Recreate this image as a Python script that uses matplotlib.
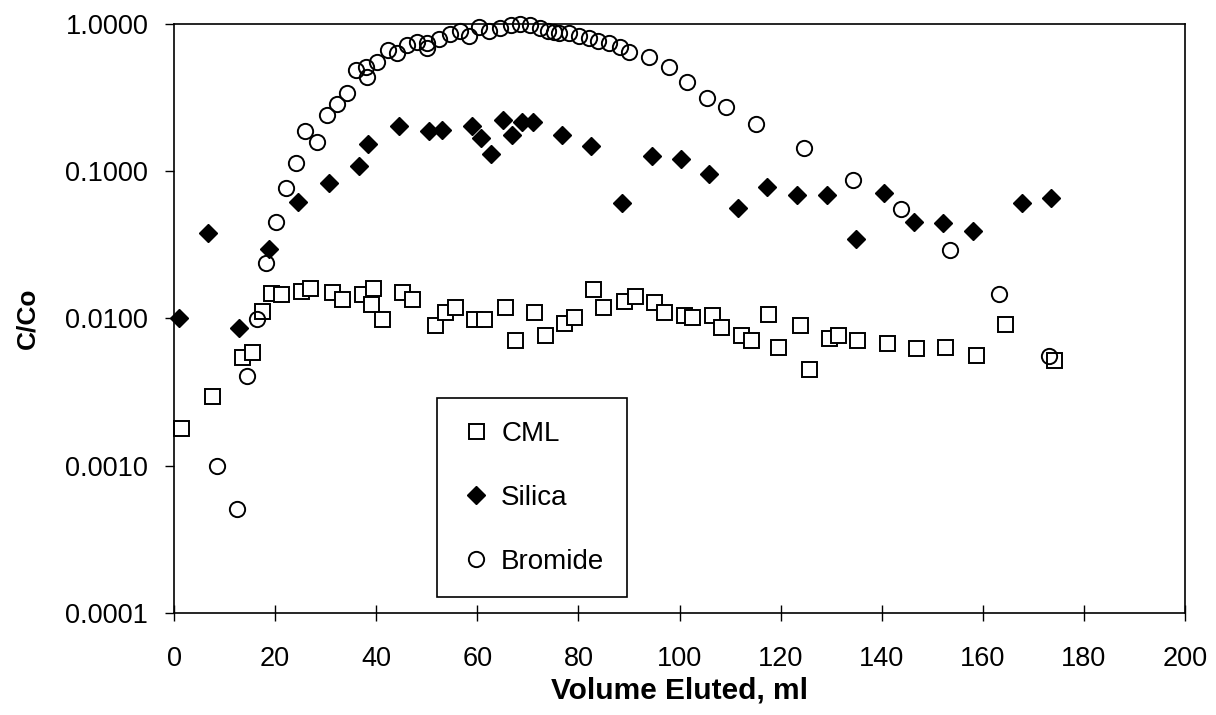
import matplotlib
matplotlib.use("Agg")
import matplotlib.pyplot as plt
from matplotlib.ticker import FixedLocator, FormatStrFormatter, NullLocator

plt.rcParams["font.family"] = ["Liberation Sans", "DejaVu Sans"]

# CML breakthrough (open squares)
cml_vol = [1.4, 7.6, 13.5, 15.4, 17.4, 19.2, 21.2, 25.1, 27.0, 31.2, 33.2, 37.1,
           39.0, 39.3, 41.2, 45.2, 47.1, 51.6, 53.6, 55.6, 59.4, 61.4, 65.5, 67.5,
           71.3, 73.3, 77.2, 79.2, 82.9, 84.9, 89.1, 91.1, 95.0, 96.9, 100.9, 102.4,
           106.4, 108.2, 112.1, 114.1, 117.6, 119.5, 123.8, 125.7, 129.6, 131.4,
           135.1, 141.0, 146.8, 152.6, 158.6, 164.3, 174.0]
cml_conc = [0.00179, 0.00299, 0.00550, 0.00594, 0.0113, 0.0150, 0.0146, 0.0155,
            0.0162, 0.0151, 0.0136, 0.0147, 0.0126, 0.0162, 0.0099, 0.0151, 0.0136,
            0.00903, 0.0110, 0.0119, 0.0099, 0.0099, 0.0119, 0.00714, 0.0110,
            0.00773, 0.00928, 0.0102, 0.0158, 0.0119, 0.0132, 0.0142, 0.0129,
            0.0110, 0.0105, 0.0102, 0.0105, 0.00871, 0.00773, 0.00714, 0.0107,
            0.00643, 0.00903, 0.00452, 0.00733, 0.00773, 0.00714, 0.00678,
            0.00627, 0.00643, 0.00565, 0.00918, 0.00522]

# Silica (filled diamonds)
silica_vol = [1.0, 6.8, 12.9, 18.7, 24.6, 30.7, 36.6, 38.4, 44.6, 50.5, 53.1, 58.9,
              60.7, 62.7, 65.0, 66.9, 68.9, 71.0, 76.7, 82.5, 88.7, 94.5, 100.3,
              105.8, 111.6, 117.4, 123.2, 129.1, 134.9, 140.5, 146.3, 152.2, 158.0,
              167.7, 173.4]
silica_conc = [0.0100, 0.0383, 0.00866, 0.0298, 0.0619, 0.0830, 0.109, 0.153,
               0.203, 0.187, 0.191, 0.205, 0.168, 0.131, 0.224, 0.177, 0.218, 0.218,
               0.177, 0.149, 0.0607, 0.127, 0.121, 0.096, 0.0561, 0.0787, 0.0691,
               0.0691, 0.0345, 0.0710, 0.0455, 0.0444, 0.0394, 0.0607, 0.0656]

# Bromide tracer (open circles)
bromide_vol = [8.6, 12.5, 14.4, 16.4, 18.2, 20.1, 22.1, 24.1, 25.9, 28.2, 30.2,
               32.2, 34.2, 36.1, 38.0, 38.1, 40.2, 42.3, 44.2, 46.0, 48.0, 50.0,
               50.0, 52.5, 54.6, 56.6, 58.4, 60.4, 62.3, 64.5, 66.6, 68.4, 70.4,
               72.4, 74.0, 75.2, 76.2, 78.2, 80.2, 82.0, 83.9, 86.1, 88.2, 90.1,
               94.0, 97.9, 101.5, 105.4, 109.2, 115.1, 124.7, 134.4, 143.8, 153.5,
               163.3, 173.0]
bromide_conc = [0.00099, 0.00051, 0.00406, 0.0099, 0.0237, 0.0453, 0.0771, 0.1135,
                0.189, 0.158, 0.242, 0.286, 0.340, 0.489, 0.515, 0.440, 0.557,
                0.669, 0.635, 0.723, 0.762, 0.743, 0.687, 0.794, 0.859, 0.905,
                0.832, 0.963, 0.905, 0.939, 0.989, 1.0, 0.989, 0.939, 0.905, 0.891,
                0.877, 0.869, 0.832, 0.803, 0.774, 0.743, 0.705, 0.645, 0.597,
                0.510, 0.407, 0.314, 0.275, 0.209, 0.1435, 0.0874, 0.0552, 0.0292,
                0.0146, 0.00556]

y_ticks = [0.0001, 0.001, 0.01, 0.1, 1.0]
x_ticks = list(range(0, 201, 20))

fig = plt.figure(figsize=(12.16, 7.15), dpi=100)
ax = fig.add_axes([0.1431, 0.1431, 0.8314, 0.8229])

ax.plot(cml_vol, cml_conc, linestyle="none", marker="s", markersize=10.8,
        markerfacecolor="white", markeredgecolor="black", markeredgewidth=1.4,
        label="CML", clip_on=False)
ax.plot(silica_vol, silica_conc, linestyle="none", marker="D", markersize=9,
        markerfacecolor="black", markeredgecolor="black", markeredgewidth=1,
        label="Silica", clip_on=False)
ax.plot(bromide_vol, bromide_conc, linestyle="none", marker="o", markersize=11,
        markerfacecolor="none", markeredgecolor="black", markeredgewidth=1.4,
        label="Bromide", clip_on=False)

ax.set_yscale("log")
ax.set_ylim(0.0001, 1.0)
ax.set_xlim(0, 200)
ax.yaxis.set_major_locator(FixedLocator(y_ticks))
ax.yaxis.set_minor_locator(NullLocator())
ax.yaxis.set_major_formatter(FormatStrFormatter("%.4f"))
ax.set_xticks(x_ticks)

ax.tick_params(axis="y", direction="out", length=6.5, width=1, pad=12,
               labelsize=19.5)
ax.tick_params(axis="x", direction="inout", length=12, width=1, pad=18,
               labelsize=19.5)

for spine in ax.spines.values():
    spine.set_linewidth(1.2)
    spine.set_color("black")

ax.set_xlabel("Volume Eluted, ml", fontsize=21.5, fontweight="bold", labelpad=3)
ax.set_ylabel("C/Co", fontsize=19, fontweight="bold", labelpad=19)

leg = ax.legend(loc="upper left", bbox_to_anchor=(0.2604, 0.3644),
                borderaxespad=0, fontsize=20, frameon=True, fancybox=False,
                edgecolor="black", framealpha=1, borderpad=0.8,
                labelspacing=1.38, handlelength=1.2, handletextpad=0.3)
leg.get_frame().set_linewidth(1.2)

fig.savefig("out.png", dpi=100)
